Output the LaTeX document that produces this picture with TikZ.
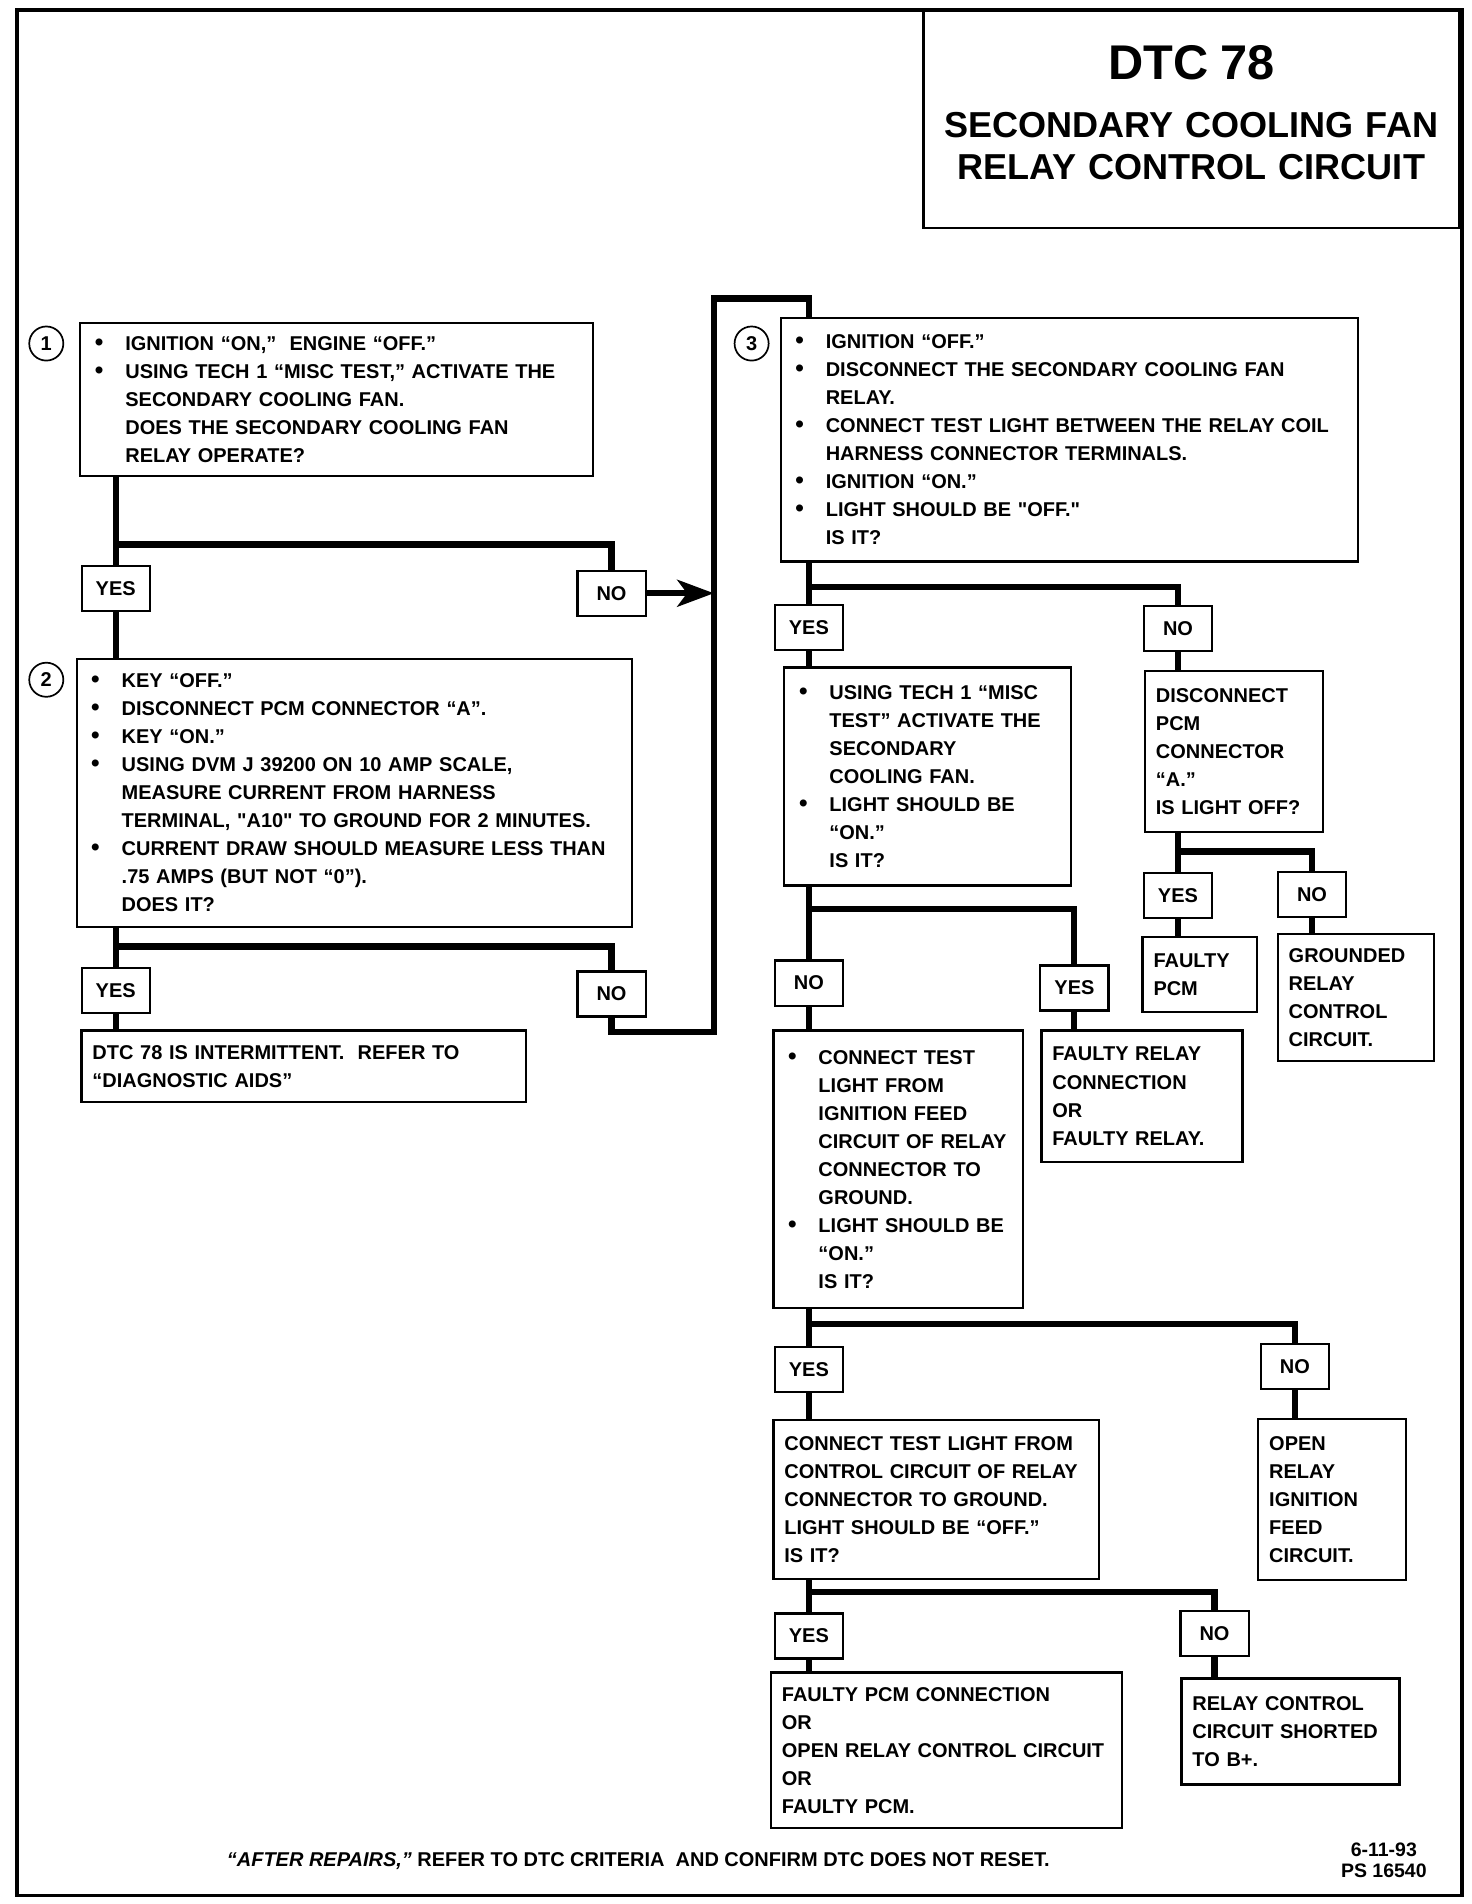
\documentclass[tikz,border=0pt]{standalone}
\usepackage{fontspec}
\setmainfont{Liberation Sans}
\usepackage{tikz}
\usetikzlibrary{arrows.meta}
\newcommand\bodyfont{\fontsize{8.2}{11.5}\selectfont\bfseries}
\newcommand\bul{\hspace*{1.5pt}\makebox[12.5pt][l]{\fontsize{10}{10}\selectfont\textbullet}}
\newcommand\ind{\hspace*{14pt}}
\begin{document}
\begin{tikzpicture}[x=0.5pt,y=-0.5pt,
  box/.style={draw,line width=0.9pt,anchor=north west,inner xsep=4.5pt,inner ysep=0pt,align=left,font=\bodyfont},
  ans/.style={draw,line width=0.9pt,minimum width=28pt,minimum height=18.5pt,inner sep=0pt,font=\bodyfont},
  num/.style={circle,draw,line width=0.7pt,minimum size=14pt,inner sep=0pt,font=\bodyfont},
  flow/.style={line width=2.5pt}]
\useasboundingbox (0,0) rectangle (1208,1563);
\draw[line width=1.5pt] (14,8) rectangle (1200,1556);
\node[box,align=center,text width=211pt,line width=1pt,
  font=\fontsize{14.8}{17}\selectfont\bfseries] (title) at (757,8)
  {\rule{0pt}{28pt}{\fontsize{20}{20}\selectfont DTC 78}\\[7pt]
   SECONDARY COOLING FAN\\\rule[-20pt]{0pt}{20pt}RELAY CONTROL CIRCUIT};
% step 1 and step 2
\node[num] (n1) at (38,282) {1};
\node[box,text width=201.5pt,minimum height=63pt] (s1) at (65,264)
  {\bul IGNITION “ON,”\ \ ENGINE “OFF.”\\
   \bul USING TECH 1 “MISC TEST,” ACTIVATE THE\\
   \ind SECONDARY COOLING FAN.\\
   \ind DOES THE SECONDARY COOLING FAN\\
   \ind RELAY OPERATE?};
\node[ans] (yes1) at (95,483) {YES};
\node[ans] (no1) at (502,487) {NO};
\coordinate (j1) at (95,447);
\coordinate (a1) at (586,487);
\node[num] (n2) at (38,558) {2};
\node[box,text width=219pt,minimum height=110pt] (s2) at (62,540)
  {\bul KEY “OFF.”\\
   \bul DISCONNECT PCM CONNECTOR “A”.\\
   \bul KEY “ON.”\\
   \bul USING DVM J 39200 ON 10 AMP SCALE,\\
   \ind MEASURE CURRENT FROM HARNESS\\
   \ind TERMINAL, \textquotedbl A10\textquotedbl\ TO GROUND FOR 2 MINUTES.\\
   \bul CURRENT DRAW SHOULD MEASURE LESS THAN\\
   \ind .75 AMPS (BUT NOT “0”).\\
   \ind DOES IT?};
\node[ans] (yes2) at (95,813) {YES};
\node[ans] (no2) at (502,816) {NO};
\coordinate (j2) at (95,777);
\node[box,text width=173.5pt,minimum height=29.5pt] (r2) at (66,845)
  {DTC 78 IS INTERMITTENT.\ \ REFER TO\\ “DIAGNOSTIC AIDS”};
\coordinate (k1) at (586,847);
\coordinate (k2) at (586,245);
% step 3
\node[num] (n3) at (617,282) {3};
\node[box,text width=228pt,minimum height=100pt] (s3) at (640,260)
  {\bul IGNITION “OFF.”\\
   \bul DISCONNECT THE SECONDARY COOLING FAN\\
   \ind RELAY.\\
   \bul CONNECT TEST LIGHT BETWEEN THE RELAY COIL\\
   \ind HARNESS CONNECTOR TERMINALS.\\
   \bul IGNITION “ON.”\\
   \bul LIGHT SHOULD BE \textquotedbl OFF.\textquotedbl\\
   \ind IS IT?};
\node[ans] (yes3) at (664,515) {YES};
\node[ans] (no3) at (967,516) {NO};
\coordinate (j3) at (664,482);
\node[box,text width=108.5pt,minimum height=89.5pt] (s3a) at (643,547)
  {\bul USING TECH 1 “MISC\\
   \ind TEST” ACTIVATE THE\\
   \ind SECONDARY\\
   \ind COOLING FAN.\\
   \bul LIGHT SHOULD BE\\
   \ind “ON.”\\
   \ind IS IT?};
\node[box,text width=64pt,minimum height=66pt] (s3b) at (939,550)
  {DISCONNECT\\ PCM\\ CONNECTOR\\ “A.”\\ IS LIGHT OFF?};
\node[ans] (yes3b) at (967,735) {YES};
\node[ans] (no3b) at (1077,734) {NO};
\coordinate (j3b) at (967,699);
\node[box,text width=38pt,minimum height=31pt] (fpcm) at (937,768) {FAULTY\\ PCM};
\node[box,text width=55pt,minimum height=52pt] (gnd) at (1048,766)
  {GROUNDED\\ RELAY\\ CONTROL\\ CIRCUIT.};
\node[ans] (no3a) at (664,807) {NO};
\node[ans] (yes3a) at (882,811) {YES};
\coordinate (j3a) at (664,746);
\node[box,text width=93.5pt,minimum height=114pt] (s4) at (634,845)
  {\bul CONNECT TEST\\
   \ind LIGHT FROM\\
   \ind IGNITION FEED\\
   \ind CIRCUIT OF RELAY\\
   \ind CONNECTOR TO\\
   \ind GROUND.\\
   \bul LIGHT SHOULD BE\\
   \ind “ON.”\\
   \ind IS IT?};
\node[box,text width=73.5pt,minimum height=54pt] (frel) at (854,845)
  {FAULTY RELAY\\ CONNECTION\\ OR\\ FAULTY RELAY.};
\node[ans] (yes4) at (664,1124) {YES};
\node[ans] (no4) at (1063,1122) {NO};
\coordinate (j4) at (664,1087);
\node[box,text width=124.5pt,minimum height=65pt] (s5) at (634,1165)
  {CONNECT TEST LIGHT FROM\\ CONTROL CIRCUIT OF RELAY\\ CONNECTOR TO GROUND.\\
   LIGHT SHOULD BE “OFF.”\\ IS IT?};
\node[box,text width=51.5pt,minimum height=66pt] (open) at (1032,1164)
  {OPEN\\ RELAY\\ IGNITION\\ FEED\\ CIRCUIT.};
\node[ans] (yes5) at (664,1343) {YES};
\node[ans] (no5) at (997,1341) {NO};
\coordinate (j5) at (664,1307);
\node[box,text width=135pt,minimum height=64pt] (fconn) at (632,1372)
  {FAULTY PCM CONNECTION\\ OR\\ OPEN RELAY CONTROL CIRCUIT\\ OR\\ FAULTY PCM.};
\node[box,text width=80.5pt,minimum height=43.5pt] (short) at (969,1377)
  {RELAY CONTROL\\ CIRCUIT SHORTED\\ TO B+.};
% footer
\node[font=\bodyfont] (note) at (524,1528)
  {\textit{“AFTER REPAIRS,”} REFER TO DTC CRITERIA\ \ AND CONFIRM DTC DOES NOT RESET.};
\node[font=\fontsize{8}{8.5}\selectfont\bfseries,align=center] (ref) at (1136,1527) {6-11-93\\PS 16540};
% connectors
\draw[flow] (yes1 |- s1.south) -- (yes1.north);
\draw[flow] (j1) -| (no1.north);
\draw[flow,-{Stealth[length=15pt,width=11pt,inset=4pt]}] (no1.east) -- (a1);
\draw[flow] (yes1.south) -- (yes1 |- s2.north);
\draw[flow] (yes2 |- s2.south) -- (yes2.north);
\draw[flow] (j2) -| (no2.north);
\draw[flow] (yes2.south) -- (yes2 |- r2.north);
\draw[flow] (no2.south) |- (k1) -- (k2) -| (yes3 |- s3.north);
\draw[flow] (yes3 |- s3.south) -- (yes3.north);
\draw[flow] (j3) -| (no3.north);
\draw[flow] (yes3.south) -- (yes3 |- s3a.north);
\draw[flow] (no3.south) -- (no3 |- s3b.north);
\draw[flow] (yes3b |- s3b.south) -- (yes3b.north);
\draw[flow] (j3b) -| (no3b.north);
\draw[flow] (yes3b.south) -- (yes3b |- fpcm.north);
\draw[flow] (no3b.south) -- (no3b |- gnd.north);
\draw[flow] (no3a |- s3a.south) -- (no3a.north);
\draw[flow] (j3a) -| (yes3a.north);
\draw[flow] (no3a.south) -- (no3a |- s4.north);
\draw[flow] (yes3a.south) -- (yes3a |- frel.north);
\draw[flow] (yes4 |- s4.south) -- (yes4.north);
\draw[flow] (j4) -| (no4.north);
\draw[flow] (yes4.south) -- (yes4 |- s5.north);
\draw[flow] (no4.south) -- (no4 |- open.north);
\draw[flow] (yes5 |- s5.south) -- (yes5.north);
\draw[flow] (j5) -| (no5.north);
\draw[flow] (yes5.south) -- (yes5 |- fconn.north);
\draw[flow] (no5.south) -- (no5 |- short.north);
\end{tikzpicture}
\end{document}
